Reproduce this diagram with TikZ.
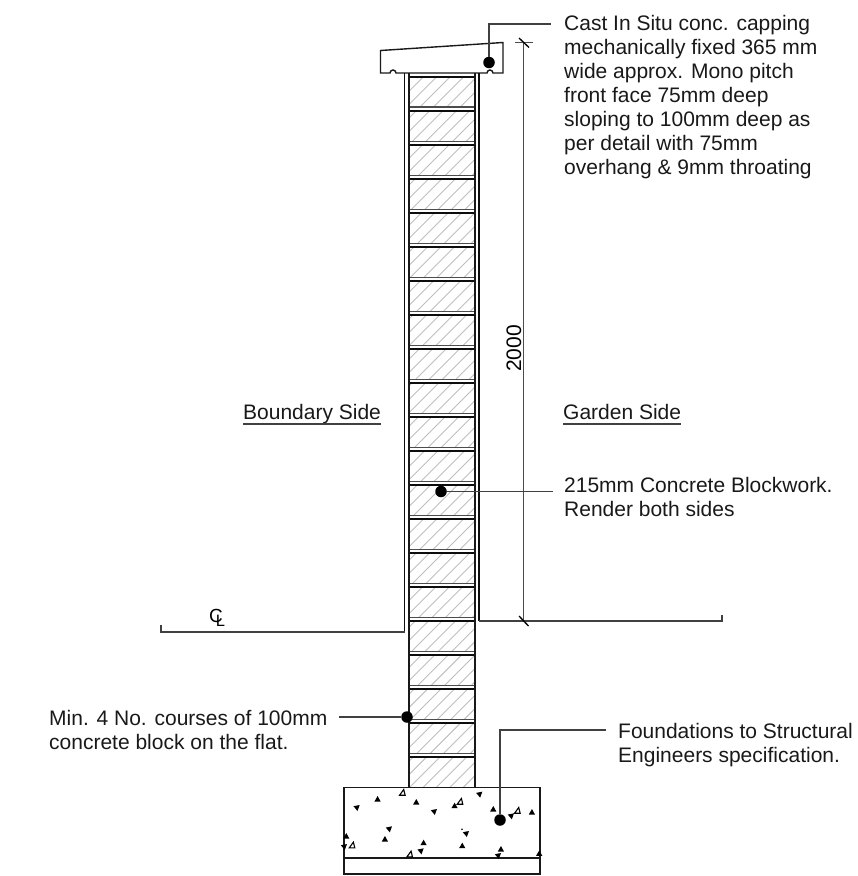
\documentclass[tikz,border=0pt]{standalone}
\usepackage{fontspec}
\setmainfont{Liberation Sans}
\tikzset{
  x=1pt,y=-1pt,
  label/.style={anchor=north west,inner sep=0pt,align=left,font=\fontsize{21}{24}\selectfont,text=black!90},
  lead/.style={draw=black!75,line width=1.2pt},
  dotnode/.style={circle,fill=black,inner sep=0pt,minimum size=11.5pt},
  dim/.style={draw=black!70,line width=1.1pt},
  outline/.style={draw=black!90,line width=1.4pt},
  heavy/.style={draw=black!95,line width=1.9pt},
  joint/.style={draw=black!70,line width=1.1pt},
  hatch/.style={draw=black!25,line width=.9pt},
  aggopen/.style={fill=white,draw=black,line width=1.1pt},
}
\begin{document}
\begin{tikzpicture}
\useasboundingbox (0,0) rectangle (858,876);
% hatching of blocks
\foreach \k in {0,...,20}{
  \pgfmathsetmacro{\ya}{73+34.03*\k+4.2}
  \pgfmathsetmacro{\yb}{73+34.03*(\k+1)-.5}
  \begin{scope}
    \clip (409,\ya) rectangle (475,\yb);
    \foreach \s in {0,...,70}{
      \draw[hatch] ({400+13.4*\s},60) -- ++(-800,800);
    }
  \end{scope}
  \draw[joint] (409,{73+34.03*(\k+1)}) -- (475,{73+34.03*(\k+1)});
  \draw[heavy] (409,{76.8+34.03*\k}) -- (475,{76.8+34.03*\k});
}
% wall
\draw[heavy] (404.5,73) -- (404.5,632);
\draw[heavy] (478.8,73) -- (478.8,621);
\draw[outline] (409,73) -- (409,787);
\draw[outline] (475,73) -- (475,787);
% capping
\draw[outline,line join=miter] (503,73) -- (503,42.5) -- (380.5,50.5) -- (380.5,73) -- (390,73)
  arc[start angle=180,end angle=360,radius=3] -- (487,73)
  arc[start angle=180,end angle=360,radius=3] -- cycle;
% ground
\draw[lead,line width=1.4pt] (161,624.5) -- (161,632) -- (404.5,632);
\draw[lead,line width=1.4pt] (478.8,621) -- (722,621) -- (722,615);
\node[inner sep=0pt,font=\fontsize{19}{19}\selectfont] (glc) at (216,615.5) {C};
\node[inner sep=0pt,font=\fontsize{16.5}{16.5}\selectfont] (gll) at (220.5,621) {L};
% dimension
\coordinate (dimtop) at (523.5,42.5);
\coordinate (dimbot) at (523.5,621);
\draw[dim] (dimtop) -- (dimbot);
\draw[dim] (515,42.5) -- (533,42.5);
\draw[draw=black,line width=1.3pt] (519,38) -- (529,47.5);
\draw[draw=black,line width=1.3pt] (519,616) -- (528.5,626);
\node[inner sep=0pt,rotate=90,font=\fontsize{21}{24}\selectfont] (dimtext) at (514,348.5) {2000};
% footing
\draw[outline] (344,787.5) rectangle (540,874);
\draw[outline] (344,858) -- (540,858);
% aggregate
\foreach \x/\y in {142/177,258/186,373/197,489/207,605/216,164/297,48/288,280/308,396/317,512/327,627/340}{
  \fill ({330+\x/3},{740+\y/3}) ++(0.3,-3) -- ++(3,5.5) -- ++(-6.2,0) -- cycle;
}
\foreach \x/\y in {80/204,312/216,448/164,543/229,177/268,42/321,272/334,408/282,504/348}{
  \fill ({330+\x/3},{740+\y/3}) ++(-3.2,-1.8) -- ++(6.2,-1.2) -- ++(-2.2,6) -- cycle;
}
\foreach \x/\y in {217/158,390/185,562/212,66/316,239/343}{
  \draw[aggopen] ({330+\x/3-2.8},{740+\y/3+2.6}) -- ++(5.6,0) -- ++(-1.4,-5.8) -- cycle;
}
\fill (462,829.3) circle (.9);
% labels
\node[label] (t1) at (564,15.5) {Cast In Situ conc. capping\\mechanically fixed 365 mm\\wide approx. Mono pitch\\front face 75mm deep\\sloping to 100mm deep as\\per detail with 75mm\\overhang \& 9mm throating};
\node[label] (t2) at (564,477) {215mm Concrete Blockwork.\\Render both sides};
\node[label] (t3) at (49,710) {Min. 4 No. courses of 100mm\\concrete block on the flat.};
\node[label] (t4) at (618,723) {Foundations to Structural\\Engineers specification.};
\node[label] (bs) at (243,404.5) {Boundary Side};
\node[label] (gs) at (563,404.5) {Garden Side};
\draw[lead] (243,424) -- (381,424);
\draw[lead] (563,424) -- (681,424);
% leaders
\node[dotnode] (d1) at (489,62.5) {};
\node[dotnode] (d2) at (441,491.5) {};
\node[dotnode] (d3) at (407,717) {};
\node[dotnode] (d4) at (500,820) {};
\coordinate (e1) at (551,24);
\coordinate (e2) at (553,491.5);
\coordinate (e3) at (339,717);
\coordinate (e4) at (606,730);
\draw[lead] (d1.north) |- (e1);
\draw[lead] (d2.east) -- (e2);
\draw[lead] (d3.west) -- (e3);
\draw[lead] (d4.north) |- (e4);
\end{tikzpicture}
\end{document}
